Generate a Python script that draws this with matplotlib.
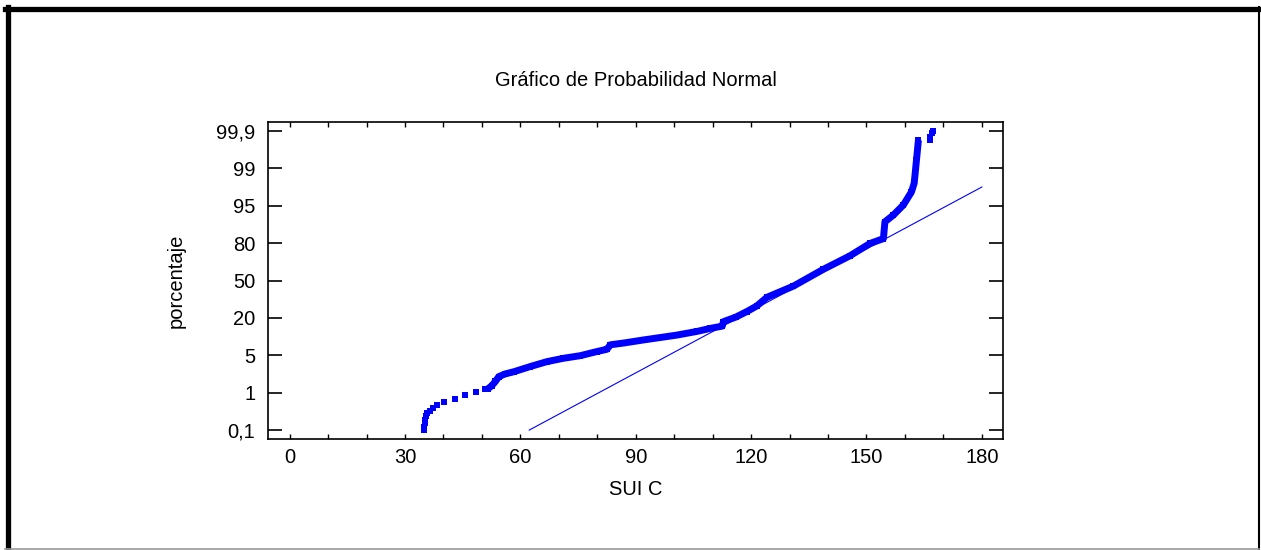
import matplotlib
matplotlib.use("Agg")
import matplotlib.pyplot as plt
from matplotlib.lines import Line2D

plt.rcParams['font.family'] = ['Liberation Sans', 'DejaVu Sans']

# y values are positions on the probability axis: 0 = 0,1 %, 8 = 99,9 %
y_labels = ["0,1", "1", "5", "20", "50", "80", "95", "99", "99,9"]
x_labels = ["0", "30", "60", "90", "120", "150", "180"]

# isolated points in the lower tail
tail_x = [35.0, 35.0, 35.1, 35.2, 35.4, 35.6, 36.6, 37.4, 38.4, 40.1, 43.1, 45.7, 48.5, 50.9]
tail_y = [0.0, 0.08, 0.18, 0.28, 0.38, 0.45, 0.52, 0.6, 0.68, 0.76, 0.83, 0.94, 1.01, 1.09]

# dense part of the sample
body_x = [51.5, 52.5, 53.5, 54.4, 56.0, 58.3, 62.6, 66.9, 71.2, 75.6, 79.9, 82.5, 83.4,
          87.0, 92.0, 100.7, 106.0, 109.4, 112.5, 112.8, 116.0, 118.9, 121.5, 124.1,
          131.0, 138.8, 145.7, 150.9, 154.4, 154.6, 154.8, 157.0, 159.6, 161.7, 162.4,
          162.6, 163.0, 163.5]
body_y = [1.10, 1.18, 1.30, 1.43, 1.50, 1.56, 1.70, 1.83, 1.92, 1.99, 2.10, 2.16, 2.28,
          2.33, 2.41, 2.54, 2.64, 2.72, 2.78, 2.90, 3.02, 3.17, 3.32, 3.55,
          3.85, 4.30, 4.66, 4.99, 5.12, 5.35, 5.57, 5.75, 6.02, 6.37, 6.60,
          6.80, 7.22, 7.75]

# isolated points in the upper tail
top_x = [166.4, 166.5, 167.0, 167.4]
top_y = [7.75, 7.85, 7.95, 8.0]

# fitted normal line
fit_x = [62.3, 180.0]
fit_y = [0.0, 6.5]

fig = plt.figure(figsize=(12.61, 5.5), dpi=100)
ax = fig.add_axes([0.2123, 0.2024, 0.5831, 0.5752])

blue = '#0000FF'
fs = 14.5
ax.plot(fit_x, fit_y, color=blue, lw=0.8)
ax.plot(body_x, body_y, color=blue, lw=5, solid_capstyle='butt')
ax.plot(body_x, body_y, 's', color=blue, ms=5, mew=0)
ax.plot(tail_x, tail_y, 's', color=blue, ms=5, mew=0)
ax.plot(top_x, top_y, 's', color=blue, ms=5, mew=0)

ax.set_xlim(-5.7, 185.5)
ax.set_ylim(-0.23, 8.23)
ax.set_xticks(range(0, 181, 30))
ax.set_xticklabels(x_labels)
ax.set_xticks(range(0, 181, 10), minor=True)
ax.set_yticks(range(len(y_labels)))
ax.set_yticklabels(y_labels)

ax.tick_params(axis='x', which='both', direction='in', length=3.5, width=1,
               top=True, labelsize=fs, pad=7)
ax.tick_params(axis='y', which='both', direction='in', length=10, width=1.2,
               right=True, labelsize=fs, pad=9)
for s in ax.spines.values():
    s.set_linewidth(1.2)

ax.set_xlabel("SUI C", fontsize=fs, labelpad=9)
ax.set_ylabel("porcentaje", fontsize=fs, labelpad=22)

fig.text(0.5045, 1 - 81 / 550, "Gráfico de Probabilidad Normal",
         ha='center', va='center', fontsize=fs)

# outer frame
W, H = 1261.0, 550.0
fig.add_artist(Line2D([5 / W, 1259 / W], [1 - 8.5 / H, 1 - 8.5 / H], color='black', lw=3.8))
fig.add_artist(Line2D([7.5 / W, 7.5 / W], [1 - 6.5 / H, 0], color='black', lw=3.8))
fig.add_artist(Line2D([1258.5 / W, 1258.5 / W], [1 - 6.5 / H, 0], color='black', lw=1.5))
fig.add_artist(Line2D([5 / W, 1259 / W], [1 - 548.5 / H, 1 - 548.5 / H], color='#999999', lw=1.2))

fig.savefig("out.png", dpi=100)
